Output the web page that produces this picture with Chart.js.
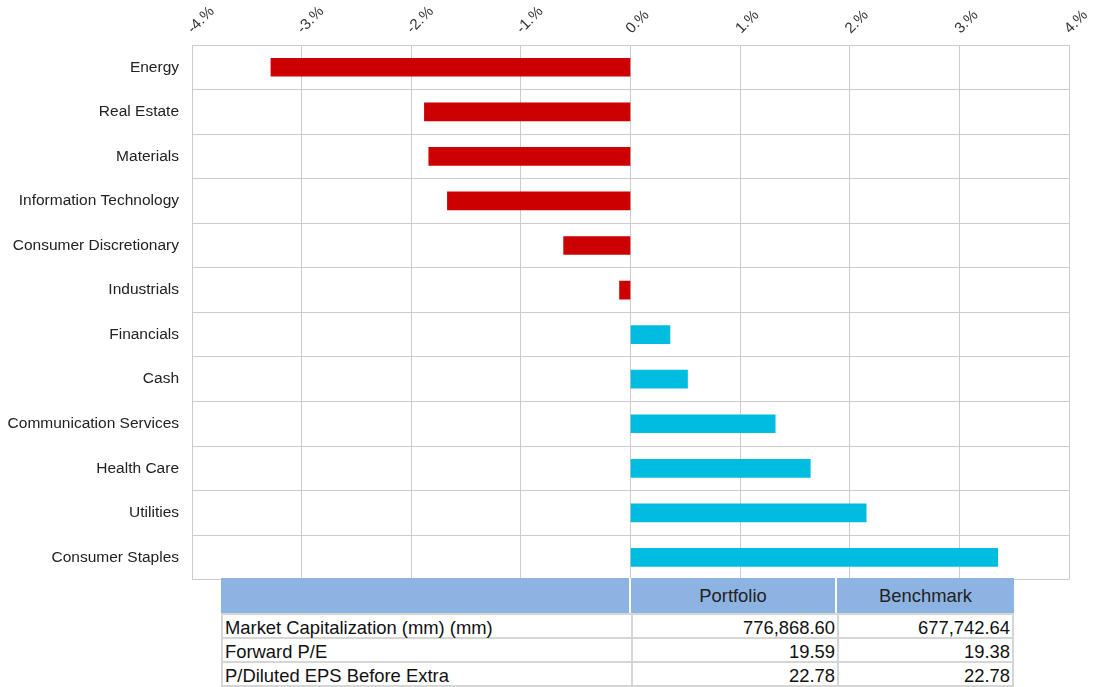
<!DOCTYPE html>
<html>
<head>
<meta charset="utf-8">
<script src="https://cdn.jsdelivr.net/npm/chart.js@4.4.1/dist/chart.umd.min.js"></script>
<style>
  body { margin: 0; background: #fff; font-family: Arial, "Liberation Sans", sans-serif; }
  #wrap { position: absolute; left: 0; top: 0; width: 1096px; height: 602px; }
  #stats { position: absolute; left: 221px; top: 578px; border-collapse: separate; border-spacing: 0;
           table-layout: fixed; width: 793px; font-size: 18.4px; color: #111; background: #fff; }
  #stats th { background: #8db3e2; font-weight: normal; height: 35px; padding: 0; text-align: center;
              border-right: 2px solid #fff; color: #222; }
  #stats th:last-child { border-right: none; }
  #stats td { height: 22px; padding: 0 2px; border-left: 2px solid #d6d6d6; border-top: 2px solid #d6d6d6;
              line-height: 18px; vertical-align: bottom; white-space: nowrap; }
  #stats tr:last-child td { border-bottom: 2px solid #d6d6d6; }
  #stats td.num { text-align: right; }
  #stats td:last-child { border-right: 2px solid #d6d6d6; }
</style>
</head>
<body>
<div id="wrap"><canvas id="sectorChart"></canvas></div>
<table id="stats">
  <colgroup><col style="width:410px"><col style="width:206px"><col style="width:177px"></colgroup>
  <thead><tr><th></th><th>Portfolio</th><th>Benchmark</th></tr></thead>
  <tbody id="statsBody"></tbody>
</table>
<script>
// sector active weights (portfolio minus benchmark, %)
const sectors = ['Energy', 'Real Estate', 'Materials', 'Information Technology', 'Consumer Discretionary',
    'Industrials', 'Financials', 'Cash', 'Communication Services', 'Health Care', 'Utilities', 'Consumer Staples'];
const activeWeights = [-3.28, -1.88, -1.84, -1.67, -0.61, -0.10, 0.36, 0.52, 1.32, 1.64, 2.15, 3.35];
const xTicks = [-4, -3, -2, -1, 0, 1, 2, 3, 4];

// characteristics table
const statLabels = ['Market Capitalization (mm) (mm)', 'Forward P/E', 'P/Diluted EPS Before Extra'];
const portfolioStats = ['776,868.60', '19.59', '22.78'];
const benchmarkStats = ['677,742.64', '19.38', '22.78'];

const body = document.getElementById('statsBody');
statLabels.forEach((label, i) => {
    const tr = document.createElement('tr');
    tr.innerHTML = '<td>' + label + '</td><td class="num">' + portfolioStats[i] +
        '</td><td class="num">' + benchmarkStats[i] + '</td>';
    body.appendChild(tr);
});

// draws the x tick labels slanted upward, starting at each gridline
const slantedTicks = {
    id: 'slantedTicks',
    afterDraw(chart) {
        const scale = chart.scales.x;
        const c = chart.ctx;
        c.save();
        c.fillStyle = '#333';
        c.font = '15px Arial, "Liberation Sans"';
        c.textAlign = 'left';
        c.textBaseline = 'alphabetic';
        xTicks.forEach(v => {
            const px = scale.getPixelForValue(v);
            c.save();
            c.translate(px + 1, 34);
            c.rotate(-Math.PI / 4);
            c.fillText(v + '.%', 0, 0);
            c.restore();
        });
        c.restore();
    }
};

const ctx = document.getElementById('sectorChart').getContext('2d');
new Chart(ctx, {
    type: 'bar',
    data: {
        labels: sectors,
        datasets: [{
            data: activeWeights,
            backgroundColor: activeWeights.map(v => v < 0 ? '#cc0000' : '#00bcdf'),
            barThickness: 18
        }]
    },
    options: {
        indexAxis: 'y',
        responsive: true,
        maintainAspectRatio: false,
        animation: false,
        layout: { padding: { left: 0, right: 27, top: 0, bottom: 2 } },
        plugins: { legend: { display: false }, tooltip: { enabled: false } },
        scales: {
            x: {
                position: 'top',
                min: -4,
                max: 4,
                afterBuildTicks: (scale) => { scale.ticks = xTicks.map(v => ({ value: v })); },
                afterFit: (scale) => { scale.height = 45; },
                grid: { color: '#cccccc', drawTicks: false },
                border: { color: '#cccccc' },
                ticks: { display: false }
            },
            y: {
                afterFit: (scale) => { scale.width = 192; },
                grid: { color: '#cccccc', offset: true, drawTicks: false },
                border: { color: '#cccccc' },
                ticks: {
                    padding: 13,
                    color: '#222',
                    font: { family: 'Arial, "Liberation Sans"', size: 15.5 }
                }
            }
        }
    },
    plugins: [slantedTicks]
});
</script>
</body>
</html>
